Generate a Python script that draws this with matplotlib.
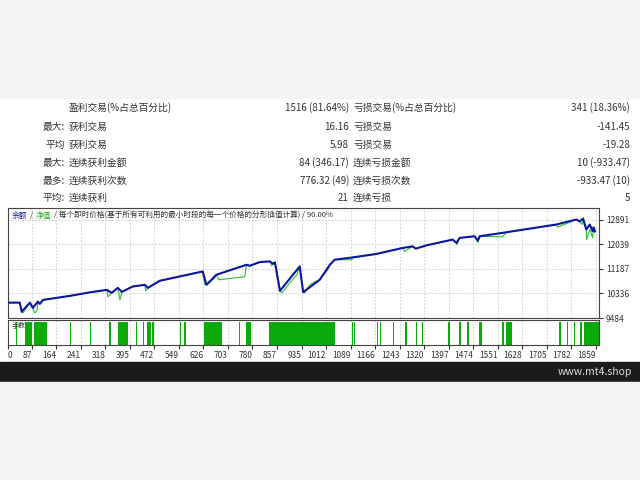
import matplotlib.pyplot as plt
from matplotlib.patches import Rectangle

plt.rcParams['font.family'] = ['Noto Sans CJK SC', 'DejaVu Sans']

# statistics table
row_prefix = ["", "最大:", "平均", "最大:", "最多:", "平均:"]
win_labels = ["盈利交易(%占总百分比)", "获利交易", "获利交易", "连续获利金额", "连续获利次数", "连续获利"]
win_values = ["1516 (81.64%)", "16.16", "5.98", "84 (346.17)", "776.32 (49)", "21"]
loss_labels = ["亏损交易(%占总百分比)", "亏损交易", "亏损交易", "连续亏损金额", "连续亏损次数", "连续亏损"]
loss_values = ["341 (18.36%)", "-141.45", "-19.28", "10 (-933.47)", "-933.47 (10)", "5"]

# axes
x_ticks = [87, 164, 241, 318, 395, 472, 549, 626, 703, 780, 857, 935, 1012,
           1089, 1166, 1243, 1320, 1397, 1474, 1551, 1628, 1705, 1782, 1859]
y_ticks = [9484, 10336, 11187, 12039, 12891]

# balance curve (trade number, value)
bal_n = [12, 49, 55, 81, 90, 106, 112, 122, 206, 269, 323, 338, 357, 370, 404,
         442, 452, 489, 624, 636, 667, 762, 772, 804, 835, 845, 851, 867, 929,
         940, 992, 1024, 1039, 1096, 1170, 1253, 1284, 1294, 1328, 1410, 1422,
         1432, 1479, 1489, 1495, 1579, 1736, 1799, 1809, 1820, 1830, 1841, 1850,
         1853, 1857]
bal_v = [10016, 10016, 9703, 10016, 9832, 10051, 9971, 10110, 10249, 10371,
         10458, 10354, 10527, 10388, 10573, 10632, 10527, 10771, 11094, 10632,
         10980, 11327, 11290, 11421, 11442, 11360, 11410, 10423, 11268, 10378,
         10806, 11327, 11501, 11581, 11700, 11908, 11964, 11884, 11999, 12197,
         12082, 12256, 12312, 12162, 12312, 12451, 12718, 12892, 12823, 12927,
         12545, 12718, 12485, 12625, 12485]

# equity curve
eq_n = [12, 49, 55, 59, 81, 90, 96, 103, 106, 112, 122, 206, 269, 323, 326,
        338, 357, 364, 370, 404, 442, 445, 452, 489, 624, 631, 636, 662, 667,
        675, 756, 762, 772, 804, 835, 841, 845, 851, 857, 867, 873, 898, 920,
        929, 940, 945, 961, 976, 992, 1017, 1024, 1039, 1093, 1096, 1170, 1253,
        1259, 1284, 1294, 1328, 1410, 1422, 1423, 1432, 1479, 1489, 1495, 1567,
        1579, 1736, 1740, 1799, 1809, 1817, 1820, 1830, 1831, 1841, 1850, 1853,
        1857]
eq_v = [10016, 10016, 9703, 9658, 10016, 9832, 9658, 9727, 10051, 9971, 10110,
        10249, 10371, 10458, 10214, 10354, 10527, 10110, 10388, 10573, 10632,
        10423, 10527, 10771, 11094, 10632, 10632, 10875, 10980, 10806, 10910,
        11327, 11290, 11421, 11442, 11292, 11360, 11410, 11153, 10423, 10353,
        10701, 10980, 11268, 10378, 10353, 10632, 10736, 10806, 11153, 11327,
        11501, 11501, 11581, 11700, 11908, 11790, 11964, 11884, 11999, 12197,
        12082, 12023, 12256, 12312, 12093, 12312, 12291, 12451, 12718, 12625,
        12892, 12823, 12718, 12927, 12545, 12197, 12545, 12266, 12625, 12440]

# lot size blocks (start, end trade number)
lot_start = [36, 65, 94, 206, 269, 329, 358, 414, 435, 448, 466, 552, 566, 629,
             738, 759, 833, 1094, 1100, 1172, 1181, 1221, 1259, 1294, 1314, 1394,
             1399, 1429, 1456, 1493, 1566, 1579, 1744, 1769, 1790, 1809, 1823]
lot_end = [41, 89, 136, 210, 273, 335, 390, 419, 438, 461, 470, 555, 573, 686,
           741, 775, 1039, 1097, 1104, 1175, 1184, 1225, 1265, 1299, 1317, 1397,
           1402, 1435, 1461, 1502, 1570, 1597, 1751, 1774, 1794, 1815, 1870]

fig = plt.figure(figsize=(6.4, 4.8), dpi=100)
fig.patch.set_facecolor("white")

# page bands
fig.patches.append(Rectangle((0, 1 - 98 / 480), 1, 98 / 480, transform=fig.transFigure,
                             color="#f3f4f6", zorder=0))
fig.patches.append(Rectangle((0, 1 - 382 / 480), 1, 20 / 480, transform=fig.transFigure,
                             color="#1b1b1b", zorder=0))
fig.patches.append(Rectangle((0, 0), 1, 1 - 382 / 480, transform=fig.transFigure,
                             color="#f4f4f6", zorder=0))
fig.text(632 / 640, 1 - 372 / 480, "www.mt4.shop", color="#dddddd", fontsize=7.5,
         ha="right", va="center")

# table
row_y = [108, 127, 145, 163, 181, 198]
tc = "#333333"
for i in range(len(row_y)):
    y = 1 - row_y[i] / 480
    fig.text(65 / 640, y, row_prefix[i], ha="right", va="center", fontsize=7, color=tc)
    fig.text(69 / 640, y, win_labels[i], ha="left", va="center", fontsize=7, color=tc)
    fig.text(349 / 640, y, win_values[i], ha="right", va="center", fontsize=7, color=tc)
    fig.text(353 / 640, y, loss_labels[i], ha="left", va="center", fontsize=7, color=tc)
    fig.text(630 / 640, y, loss_values[i], ha="right", va="center", fontsize=7, color=tc)

left = 8 / 640
width = 591 / 640
xmin, xmax = 12, 1870
grid_kw = dict(color="#c8c8c8", linestyle=(0, (2, 2)), linewidth=0.6)

# main chart
ax = fig.add_axes([left, 1 - 318 / 480, width, 110 / 480])
ax.plot(eq_n, eq_v, color="#2ec02e", linewidth=0.8, zorder=2)
ax.plot(bal_n, bal_v, color="#0c16a0", linewidth=1.5, zorder=3)
ax.set_xlim(xmin, xmax)
ax.set_ylim(9484, 13290)
ax.set_xticks(x_ticks)
ax.set_xticklabels([])
ax.tick_params(axis="x", length=0)
ax.yaxis.tick_right()
ax.set_yticks(y_ticks)
ax.set_yticklabels([str(v) for v in y_ticks])
ax.tick_params(axis="y", labelsize=6, length=3, pad=2, colors="#333333")
ax.grid(True, **grid_kw)
for s in ax.spines.values():
    s.set_color("#444444")
    s.set_linewidth(0.8)
ax.text(0.006, 0.93, "余额", color="#0c16a0", fontsize=5.5, transform=ax.transAxes, va="center")
ax.text(0.037, 0.93, "/", color="#333333", fontsize=5.5, transform=ax.transAxes, va="center")
ax.text(0.047, 0.93, "净值", color="#22a022", fontsize=5.5, transform=ax.transAxes, va="center")
ax.text(0.078, 0.93, "/ 每个即时价格(基于所有可利用的最小时段的每一个价格的分形插值计算) / 90.00%",
        color="#333333", fontsize=5.5, transform=ax.transAxes, va="center")

# lot panel
ax2 = fig.add_axes([left, 1 - 345 / 480, width, 25 / 480])
widths = [e - s for s, e in zip(lot_start, lot_end)]
ax2.bar(lot_start, [1] * len(lot_start), width=widths, align="edge",
        color="#0aaa0a", linewidth=0, zorder=2)
ax2.set_xlim(xmin, xmax)
ax2.set_ylim(0, 1.1)
ax2.set_yticks([])
ax2.set_xticks([xmin] + x_ticks)
ax2.set_xticklabels(["0"] + [str(v) for v in x_ticks])
ax2.tick_params(axis="x", labelsize=6, length=3, pad=1, colors="#333333")
for lbl in ax2.get_xticklabels():
    lbl.set_horizontalalignment("right")
ax2.get_xticklabels()[0].set_horizontalalignment("left")
ax2.grid(True, axis="x", **grid_kw)
for s in ax2.spines.values():
    s.set_color("#444444")
    s.set_linewidth(0.8)
ax2.text(0.006, 0.75, "手数", color="#333333", fontsize=5, transform=ax2.transAxes,
         va="center", zorder=3)

fig.savefig("out.png", dpi=100)
